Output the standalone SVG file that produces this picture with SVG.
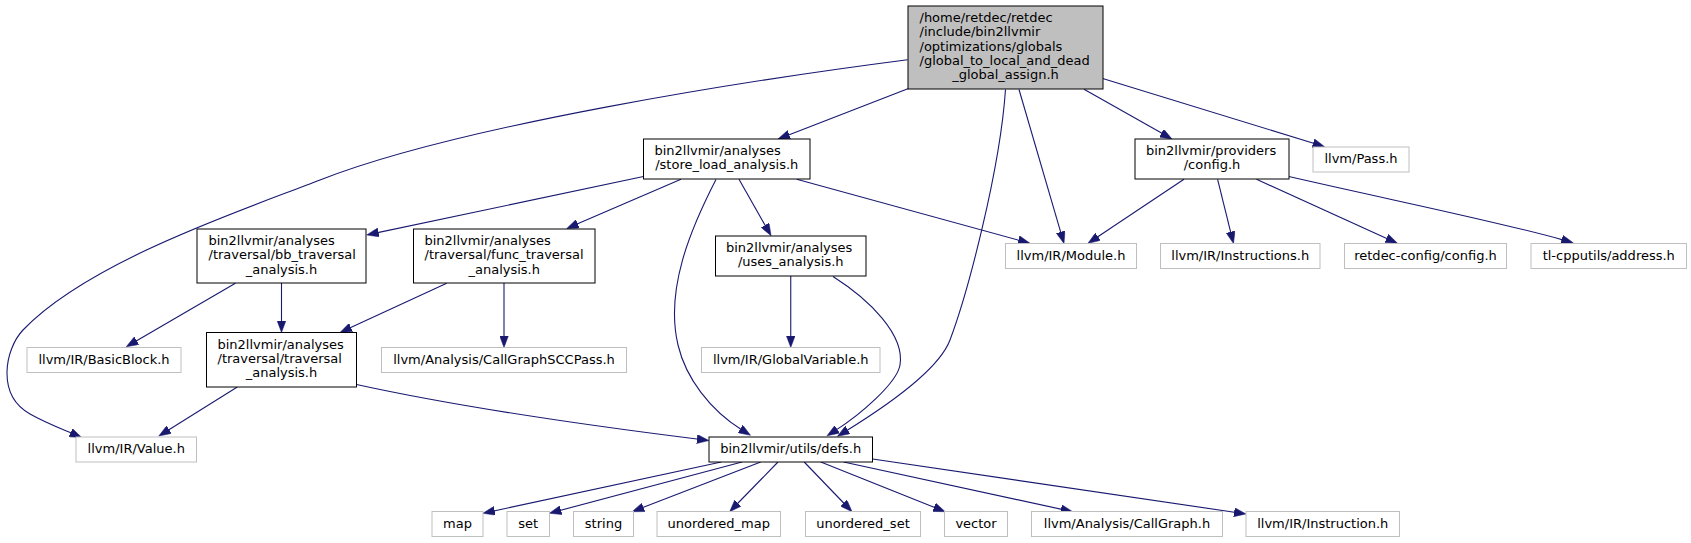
<svg xmlns="http://www.w3.org/2000/svg" width="1691" height="543" viewBox="0 0 1691 543">
<style>
  .n rect { fill: #ffffff; stroke: #000000; stroke-width: 1; }
  .g rect { fill: #ffffff; stroke: #bfbfbf; stroke-width: 1; }
  .m rect { fill: #bfbfbf; stroke: #000000; stroke-width: 1; }
  text { font-family: "DejaVu Sans", "Liberation Sans", sans-serif; font-size: 13px; fill: #000000; }
  .c { text-anchor: middle; }
  #edges path { fill: none; stroke: #191970; stroke-width: 1.1; marker-end: url(#arrow); }
</style>
<defs>
  <marker id="arrow" markerWidth="13" markerHeight="9" refX="2" refY="4.5" orient="auto" markerUnits="userSpaceOnUse">
    <path d="M0,0 L12,4.5 L0,9 z" fill="#191970" stroke="#191970" stroke-width="0.5"/>
  </marker>
</defs>
<rect x="0" y="0" width="1691" height="543" fill="#ffffff"/>

<g id="edges">
  <path d="M907.6,59.7 C750,80 460,125 320,180 C250,207.5 90,260 23,330 C5,349 -4,395 30,414 C47,423.5 62,429 72.5,433.5"/>
  <path d="M908.5,88.5 L787.3,135.4"/>
  <path d="M1019,89.5 L1061.2,233.9"/>
  <path d="M1005.5,89.5 C1000,170 968,292 950,340 C938,372 880,410 846,431"/>
  <path d="M1084,89.3 L1163.3,134.1"/>
  <path d="M1102.7,78.5 L1315.1,143.8"/>
  <path d="M643.5,176.5 L376.5,232.9"/>
  <path d="M681,179.3 L575.9,224.6"/>
  <path d="M739,179.3 L766.1,227"/>
  <path d="M716,179.5 C690,230 665,290 678,345 C685.8,378 710,410 742,430"/>
  <path d="M796.7,179.3 L1020.4,240.7"/>
  <path d="M1184,179.3 L1096.3,237.8"/>
  <path d="M1217.6,179.3 L1231.1,233.8"/>
  <path d="M1256.5,179.3 L1388.4,239.2"/>
  <path d="M1288.8,176.5 C1400,202 1500,222 1563.6,240.1"/>
  <path d="M235.4,283.3 L134.9,341.7"/>
  <path d="M281.5,283 L281.5,322.5"/>
  <path d="M446.7,283.3 L349.1,328.3"/>
  <path d="M504,283 L504,337.5"/>
  <path d="M790.75,276 L790.75,337.5"/>
  <path d="M833,276.5 C870,300 905,335 900,365 C897,383 860,415 835.5,430.4"/>
  <path d="M237.3,387 L167.3,430.7"/>
  <path d="M356.5,384.5 C450,405 560,422 699,439.3"/>
  <path d="M721.3,462 L492.7,511.2"/>
  <path d="M742,462 L559,510.7"/>
  <path d="M760.7,462 L641.5,508.1"/>
  <path d="M778,462 L736.6,504.5"/>
  <path d="M804.2,462 L845.1,504.5"/>
  <path d="M820.8,462 L935.9,508"/>
  <path d="M843.6,462 L1062.9,509.6"/>
  <path d="M872.6,459 L1236.1,512.5"/>
</g>

<g id="node-main" class="m">
  <rect x="908" y="6" width="195" height="83"/>
  <text x="919.5" y="22">/home/retdec/retdec</text>
  <text x="919.5" y="36.3">/include/bin2llvmir</text>
  <text x="919.5" y="50.6">/optimizations/globals</text>
  <text x="919.5" y="64.9">/global_to_local_and_dead</text>
  <text x="1005.5" y="79.2" class="c">_global_assign.h</text>
</g>
<g id="node-store-load" class="n">
  <rect x="643.5" y="139" width="166.5" height="40"/>
  <text x="654.5" y="155">bin2llvmir/analyses</text>
  <text x="726.75" y="169.3" class="c">/store_load_analysis.h</text>
</g>
<g id="node-config" class="n">
  <rect x="1135" y="139" width="154" height="40"/>
  <text x="1146" y="155">bin2llvmir/providers</text>
  <text x="1212" y="169.3" class="c">/config.h</text>
</g>
<g id="node-pass" class="g">
  <rect x="1313" y="147" width="96" height="25"/>
  <text x="1361" y="163" class="c">llvm/Pass.h</text>
</g>
<g id="node-bb-traversal" class="n">
  <rect x="197" y="229" width="169" height="54"/>
  <text x="208.5" y="245">bin2llvmir/analyses</text>
  <text x="208.5" y="259.3">/traversal/bb_traversal</text>
  <text x="281.5" y="273.6" class="c">_analysis.h</text>
</g>
<g id="node-func-traversal" class="n">
  <rect x="413.5" y="229" width="181.5" height="54"/>
  <text x="424.5" y="245">bin2llvmir/analyses</text>
  <text x="424.5" y="259.3">/traversal/func_traversal</text>
  <text x="504.25" y="273.6" class="c">_analysis.h</text>
</g>
<g id="node-uses" class="n">
  <rect x="715.5" y="236" width="150.5" height="40"/>
  <text x="726" y="252">bin2llvmir/analyses</text>
  <text x="790.75" y="266.3" class="c">/uses_analysis.h</text>
</g>
<g id="node-module" class="g">
  <rect x="1005.5" y="243.5" width="131" height="25"/>
  <text x="1071" y="259.5" class="c">llvm/IR/Module.h</text>
</g>
<g id="node-instructions" class="g">
  <rect x="1160.5" y="243.5" width="159.5" height="25"/>
  <text x="1240.25" y="259.5" class="c">llvm/IR/Instructions.h</text>
</g>
<g id="node-retdec-config" class="g">
  <rect x="1344.5" y="243.5" width="162" height="25"/>
  <text x="1425.5" y="259.5" class="c">retdec-config/config.h</text>
</g>
<g id="node-address" class="g">
  <rect x="1531" y="243.5" width="155.5" height="25"/>
  <text x="1608.75" y="259.5" class="c">tl-cpputils/address.h</text>
</g>
<g id="node-basicblock" class="g">
  <rect x="27" y="347.5" width="154" height="25"/>
  <text x="104" y="363.5" class="c">llvm/IR/BasicBlock.h</text>
</g>
<g id="node-traversal" class="n">
  <rect x="206.5" y="332.5" width="150" height="54.5"/>
  <text x="217.5" y="348.5">bin2llvmir/analyses</text>
  <text x="217.5" y="362.8">/traversal/traversal</text>
  <text x="281.5" y="377.1" class="c">_analysis.h</text>
</g>
<g id="node-callgraphsccpass" class="g">
  <rect x="381.5" y="347.5" width="245" height="25"/>
  <text x="504" y="363.5" class="c">llvm/Analysis/CallGraphSCCPass.h</text>
</g>
<g id="node-globalvariable" class="g">
  <rect x="701.5" y="347.5" width="178.5" height="25"/>
  <text x="790.75" y="363.5" class="c">llvm/IR/GlobalVariable.h</text>
</g>
<g id="node-value" class="g">
  <rect x="76" y="437" width="120.5" height="25"/>
  <text x="136.25" y="453" class="c">llvm/IR/Value.h</text>
</g>
<g id="node-defs" class="n">
  <rect x="709" y="437" width="163.5" height="25"/>
  <text x="790.75" y="453" class="c">bin2llvmir/utils/defs.h</text>
</g>
<g id="node-map" class="g">
  <rect x="432" y="511.5" width="51" height="25"/>
  <text x="457.5" y="527.5" class="c">map</text>
</g>
<g id="node-set" class="g">
  <rect x="507" y="511.5" width="42.5" height="25"/>
  <text x="528.25" y="527.5" class="c">set</text>
</g>
<g id="node-string" class="g">
  <rect x="573.5" y="511.5" width="60" height="25"/>
  <text x="603.5" y="527.5" class="c">string</text>
</g>
<g id="node-unordered-map" class="g">
  <rect x="657" y="511.5" width="123.5" height="25"/>
  <text x="718.75" y="527.5" class="c">unordered_map</text>
</g>
<g id="node-unordered-set" class="g">
  <rect x="805.5" y="511.5" width="115" height="25"/>
  <text x="863" y="527.5" class="c">unordered_set</text>
</g>
<g id="node-vector" class="g">
  <rect x="944.5" y="511.5" width="63" height="25"/>
  <text x="976" y="527.5" class="c">vector</text>
</g>
<g id="node-callgraph" class="g">
  <rect x="1031.5" y="511.5" width="191" height="25"/>
  <text x="1127" y="527.5" class="c">llvm/Analysis/CallGraph.h</text>
</g>
<g id="node-instruction" class="g">
  <rect x="1246" y="511.5" width="153.5" height="25"/>
  <text x="1322.75" y="527.5" class="c">llvm/IR/Instruction.h</text>
</g>
</svg>
